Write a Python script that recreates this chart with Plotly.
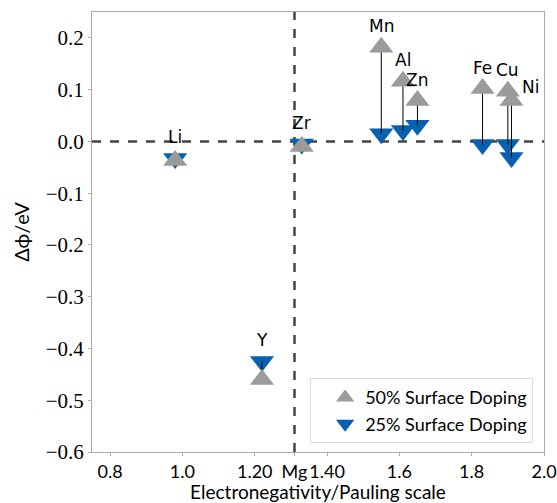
import plotly.graph_objects as go

elements = ["Li", "Y", "Zr", "Mn", "Al", "Zn", "Fe", "Cu", "Ni"]
electroneg = [0.98, 1.22, 1.33, 1.55, 1.61, 1.65, 1.83, 1.90, 1.91]
dphi_50 = [-0.037, -0.46, -0.01, 0.182, 0.116, 0.079, 0.102, 0.097, 0.079]
dphi_25 = [-0.033, -0.425, -0.005, 0.015, 0.021, 0.031, -0.006, -0.006, -0.031]

mg_en = 1.31
xtick_vals = [0.8, 1.0, 1.2, 1.31, 1.4, 1.6, 1.8, 2.0]
xtick_text = ["0.8", "1.0", "1.20", "Mg", "1.40", "1.6", "1.8", "2.0"]
ytick_vals = [0.2, 0.1, 0.0, -0.1, -0.2, -0.3, -0.4, -0.5, -0.6]
ytick_text = ["0.2", "0.1", "0.0", "\u22120.1", "\u22120.2", "\u22120.3", "\u22120.4", "\u22120.5", "\u22120.6"]

GRAY = "#9b9b9b"
BLUE = "#0760b0"
SANS = "Lato"
SERIF = "Liberation Serif"

fig = go.Figure()

lx, ly = [], []
for x, a, b in zip(electroneg, dphi_50, dphi_25):
    lx += [x, x, None]
    ly += [a, b, None]

fig.add_trace(go.Scatter(
    x=electroneg, y=dphi_25, mode="markers", name="25% Surface Doping",
    marker=dict(symbol="triangle-down", size=21, color=BLUE, line=dict(width=0)),
    legendrank=2,
))
fig.add_trace(go.Scatter(
    x=lx, y=ly, mode="lines", line=dict(color="black", width=1),
    showlegend=False, hoverinfo="skip",
))
fig.add_trace(go.Scatter(
    x=electroneg, y=dphi_50, mode="markers", name="50% Surface Doping",
    marker=dict(symbol="triangle-up", size=21, color=GRAY, line=dict(width=0)),
    legendrank=1,
))

fig.add_shape(type="line", xref="x", yref="paper", x0=mg_en, x1=mg_en, y0=0, y1=1,
              line=dict(color="#444444", width=2.5, dash="dash"), layer="below")
fig.add_shape(type="line", xref="paper", yref="y", x0=0, x1=1, y0=0, y1=0,
              line=dict(color="#444444", width=2.5, dash="dash"), layer="below")

offsets = {"Ni": (19, 14)}
for el, x, a, b in zip(elements, electroneg, dphi_50, dphi_25):
    dx, dy = offsets.get(el, (0, 21))
    fig.add_annotation(x=x, y=max(a, b), text=el, showarrow=False,
                       xshift=dx, yshift=dy,
                       font=dict(family="DejaVu Sans", size=17, color="black"))

axis_common = dict(showgrid=False, zeroline=False, showline=True, mirror=True,
                   linecolor="#aaaaaa", linewidth=1, ticks="outside", ticklen=3,
                   tickcolor="#aaaaaa", automargin=False)

fig.update_xaxes(range=[0.75, 2.0], tickvals=xtick_vals, ticktext=xtick_text,
                 tickangle=0,
                 tickfont=dict(family=SANS, size=18, color="black"),
                 title=dict(text="Electronegativity/Pauling scale", standoff=5,
                            font=dict(family=SANS, size=19, color="black")),
                 **axis_common)
fig.update_yaxes(range=[-0.6, 0.25], tickvals=ytick_vals, ticktext=ytick_text,
                 tickfont=dict(family=SERIF, size=21, color="black"),
                 title=dict(text="\u0394\u03d5/eV", standoff=10,
                            font=dict(family=SANS, size=20, color="black")),
                 **axis_common)

fig.update_layout(
    width=557, height=503,
    margin=dict(l=92, r=13, t=12, b=51),
    paper_bgcolor="white", plot_bgcolor="white",
    showlegend=True,
    legend=dict(x=0.976, y=0.02, xanchor="right", yanchor="bottom",
                bgcolor="white", bordercolor="#dddddd", borderwidth=1,
                font=dict(family=SANS, size=18, color="black"),
                itemsizing="trace", tracegroupgap=6, indentation=14),
)

fig.write_html("out.html", config={"displayModeBar": False},
               post_script="document.body.style.margin='0';")
